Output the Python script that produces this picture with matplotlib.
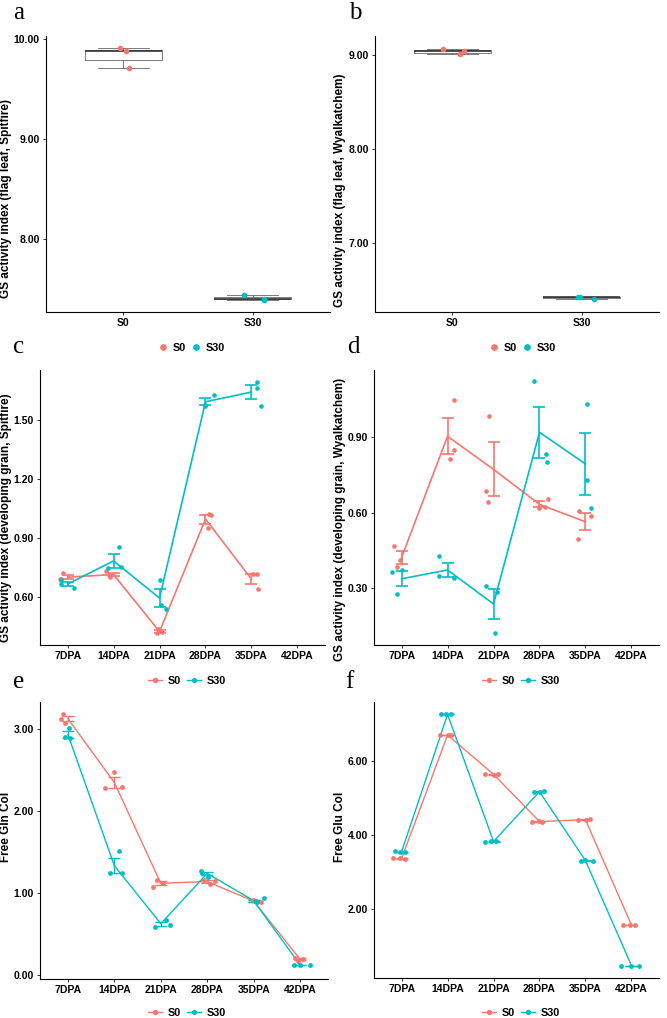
import numpy as np
import matplotlib
matplotlib.use("Agg")
import matplotlib.pyplot as plt
from matplotlib.lines import Line2D

plt.rcParams['font.family'] = ['Liberation Sans', 'DejaVu Sans']

RED = '#F8766D'
CYAN = '#00BFC4'

# ---- data ----
groups = ['S0', 'S30']
days = ['7DPA', '14DPA', '21DPA', '28DPA', '35DPA', '42DPA']

# a / b : flag leaf boxplots (3 replicates per group)
a_s0 = [9.907, 9.877, 9.71]
a_s30 = [7.44, 7.40, 7.39]
b_s0 = [9.07, 9.05, 9.01]
b_s30 = [6.42, 6.42, 6.40]
a_jit = [[-0.025, 0.02, 0.045], [-0.07, 0.085, 0.09]]
b_jit = [[-0.07, 0.09, 0.06], [-0.03, -0.01, 0.10]]

# c / d : developing grain (no 42DPA values)
c_s0 = [[0.72, 0.69, 0.69], [0.73, 0.71, 0.70], [0.435, 0.415, 0.42],
        [1.02, 1.015, 0.95], [0.715, 0.715, 0.64]]
c_s30 = [[0.685, 0.663, 0.646], [0.854, 0.744, 0.749], [0.686, 0.559, 0.536],
         [1.627, 1.571, 1.576], [1.692, 1.661, 1.57]]
c_s0_jit = [[-0.09, -0.16, -0.14], [-0.17, -0.10, -0.07], [-0.04, -0.06, 0.05],
            [0.07, 0.12, 0.05], [0.04, 0.13, 0.14]]
c_s30_jit = [[-0.14, -0.15, 0.14], [0.12, -0.12, 0.17], [0.0, 0.03, 0.14],
             [0.18, 0.0, -0.02], [0.13, 0.13, 0.20]]

d_s0 = [[0.469, 0.411, 0.384], [1.047, 0.85, 0.815], [0.985, 0.688, 0.644],
        [0.619, 0.624, 0.656], [0.607, 0.588, 0.496]]
d_s30 = [[0.362, 0.372, 0.276], [0.427, 0.348, 0.34], [0.307, 0.283, 0.119],
         [1.123, 0.834, 0.803], [1.034, 0.731, 0.617]]
d_s0_jit = [[-0.17, -0.04, -0.11], [0.13, 0.15, 0.06], [-0.09, -0.17, -0.13],
            [0.0, 0.12, 0.18], [-0.14, 0.13, -0.16]]
d_s30_jit = [[-0.20, 0.0, -0.09], [-0.19, -0.19, 0.13], [-0.16, 0.08, 0.03],
             [-0.11, 0.15, 0.16], [0.03, 0.04, 0.13]]

# e / f : free Gln and Glu
e_s0 = [[3.19, 3.12, 3.08], [2.48, 2.28, 2.29], [1.08, 1.16, 1.12],
        [1.16, 1.11, 1.15], [0.92, 0.886, 0.90], [0.21, 0.17, 0.195]]
e_s30 = [[3.02, 2.90, 2.89], [1.51, 1.25, 1.245], [0.59, 0.675, 0.615],
         [1.27, 1.25, 1.20], [0.90, 0.935, 0.886], [0.12, 0.12, 0.12]]
e_s0_jit = [[-0.11, -0.14, -0.06], [-0.01, -0.19, 0.17], [-0.17, -0.08, 0.05],
            [-0.06, 0.06, 0.16], [-0.01, 0.15, 0.06], [-0.11, -0.04, 0.07]]
e_s30_jit = [[0.02, -0.07, 0.04], [0.10, -0.10, 0.17], [-0.12, 0.12, 0.19],
             [-0.14, -0.11, 0.01], [0.02, 0.22, 0.07], [-0.14, -0.01, 0.22]]

f_s0 = [[3.37, 3.36, 3.35], [6.71, 6.70, 6.70], [5.64, 5.63, 5.65],
        [4.35, 4.37, 4.36], [4.41, 4.40, 4.42], [1.55, 1.57, 1.56]]
f_s30 = [[3.55, 3.54, 3.53], [7.26, 7.27, 7.26], [3.81, 3.83, 3.82],
         [5.16, 5.17, 5.18], [3.30, 3.31, 3.30], [0.46, 0.46, 0.46]]
f_s0_jit = [[-0.18, -0.04, 0.07], [-0.17, 0.01, 0.08], [-0.18, 0.01, 0.09],
            [-0.17, 0.0, 0.05], [-0.16, 0.02, 0.09], [-0.19, -0.04, 0.07]]
f_s30_jit = [[-0.14, -0.04, 0.07], [-0.14, -0.03, 0.08], [-0.18, -0.06, 0.05],
             [-0.13, 0.01, 0.10], [-0.09, -0.01, 0.16], [-0.22, 0.0, 0.16]]

W, H = 667, 1018
fig = plt.figure(figsize=(W / 100, H / 100), dpi=100)


def add_ax(l, r, t, b):
    return fig.add_axes([l / W, 1 - b / H, (r - l) / W, (b - t) / H])


def style(ax, ylabel, lab_px, lab_y):
    for s in ['top', 'right']:
        ax.spines[s].set_visible(False)
    for s in ['left', 'bottom']:
        ax.spines[s].set_linewidth(0.8)
        ax.spines[s].set_color('black')
    ax.tick_params(length=2.5, width=0.7, color='#333333', labelsize=7.5, pad=2)
    for lab in ax.get_xticklabels() + ax.get_yticklabels():
        lab.set_fontweight('bold')
    ax.set_ylabel(ylabel, fontsize=8.5, fontweight='bold')
    # label position given as a pixel offset from the left spine
    width_px = ax.get_position().width * W
    ax.yaxis.set_label_coords(lab_px / width_px, lab_y)


def box_panel(ax, s0, s30, jit, ylim, yticks):
    data = [s0, s30]
    ax.boxplot(data, positions=[1, 2], widths=0.6, whis=(0, 100),
               showfliers=False, capwidths=0.4,
               boxprops=dict(color='#666666', linewidth=0.6),
               whiskerprops=dict(color='#666666', linewidth=0.6),
               capprops=dict(color='#666666', linewidth=0.6),
               medianprops=dict(color='#333333', linewidth=1.2))
    for i, (vals, col) in enumerate(zip(data, [RED, CYAN])):
        xs = np.array(jit[i]) + i + 1
        ax.scatter(xs, vals, s=16, color=col, zorder=3, linewidths=0)
    ax.set_xlim(0.4, 2.6)
    ax.set_ylim(*ylim)
    ax.set_xticks([1, 2])
    ax.set_xticklabels(groups)
    ax.set_yticks(yticks)
    ax.set_yticklabels(['%.2f' % v for v in yticks])


def line_panel(ax, s0, s30, j0, j30, ylim, yticks, lw, psize):
    for vals, jit, col in [(s0, j0, RED), (s30, j30, CYAN)]:
        vals = np.array(vals)
        x = np.arange(1, len(vals) + 1)
        mean = vals.mean(axis=1)
        se = vals.std(axis=1, ddof=1) / np.sqrt(vals.shape[1])
        ax.plot(x, mean, color=col, lw=lw, zorder=2)
        ax.errorbar(x, mean, yerr=se, fmt='none', ecolor=col, elinewidth=lw,
                    capsize=4, capthick=lw, zorder=2)
        xs = (x[:, None] + np.array(jit)).ravel()
        ax.scatter(xs, vals.ravel(), s=psize, color=col, zorder=3, linewidths=0)
    ax.set_xlim(0.4, 6.6)
    ax.set_ylim(*ylim)
    ax.set_xticks(np.arange(1, 7))
    ax.set_xticklabels(days)
    ax.set_yticks(yticks)
    ax.set_yticklabels(['%.2f' % v for v in yticks])


def legend(cx, cy, with_line):
    hs = []
    for col, g in zip([RED, CYAN], groups):
        if with_line:
            hs.append(Line2D([], [], color=col, lw=1.0, marker='o', markersize=2.8))
        else:
            hs.append(Line2D([], [], color=col, lw=0, marker='o', markersize=3.8))
    fig.legend(hs, groups, loc='center', bbox_to_anchor=(cx / W, 1 - cy / H),
               ncol=2, frameon=False, handlelength=1.3 if with_line else 0.7,
               handletextpad=0.5, columnspacing=0.6,
               prop=dict(size=7.8, weight='bold'))


ax_a = add_ax(46, 330, 36, 312)
box_panel(ax_a, a_s0, a_s30, a_jit, (7.27, 10.03), [8.0, 9.0, 10.0])
style(ax_a, 'GS activity index (flag leaf, Spitfire)', -34, 0.41)

ax_b = add_ax(375, 659, 36, 312)
box_panel(ax_b, b_s0, b_s30, b_jit, (6.265, 9.206), [7.0, 8.0, 9.0])
style(ax_b, 'GS activity index (flag leaf, Wyalkatchem)', -29, 0.44)

ax_c = add_ax(40, 325, 370, 645)
line_panel(ax_c, c_s0, c_s30, c_s0_jit, c_s30_jit, (0.355, 1.753),
           [0.6, 0.9, 1.2, 1.5], 1.2, 11)
style(ax_c, 'GS activity index (developing grain, Spitfire)', -28, 0.464)

ax_d = add_ax(374, 659, 370, 645)
line_panel(ax_d, d_s0, d_s30, d_s0_jit, d_s30_jit, (0.073, 1.168),
           [0.3, 0.6, 0.9], 1.2, 11)
style(ax_d, 'GS activity index (developing grain, Wyalkatchem)', -28, 0.458)

ax_e = add_ax(40, 328, 702, 979)
line_panel(ax_e, e_s0, e_s30, e_s0_jit, e_s30_jit, (-0.049, 3.333),
           [0.0, 1.0, 2.0, 3.0], 1.0, 12)
style(ax_e, 'Free Gln Col', -28, 0.549)

ax_f = add_ax(374, 659, 702, 978)
line_panel(ax_f, f_s0, f_s30, f_s0_jit, f_s30_jit, (0.123, 7.598),
           [2.0, 4.0, 6.0], 1.0, 12)
style(ax_f, 'Free Glu Col', -28, 0.549)

legend(192, 348, False)
legend(523, 348, False)
legend(187, 681, True)
legend(521, 681, True)
legend(187, 1013, True)
legend(521, 1013, True)

for letter, x, y in [('a', 13, 19), ('b', 349, 19), ('c', 13, 353),
                     ('d', 347, 353), ('e', 13, 688), ('f', 345, 688)]:
    fig.text(x / W, 1 - y / H, letter, fontsize=18, family='Liberation Serif',
             ha='left', va='baseline')

fig.savefig('out.png', dpi=100)
